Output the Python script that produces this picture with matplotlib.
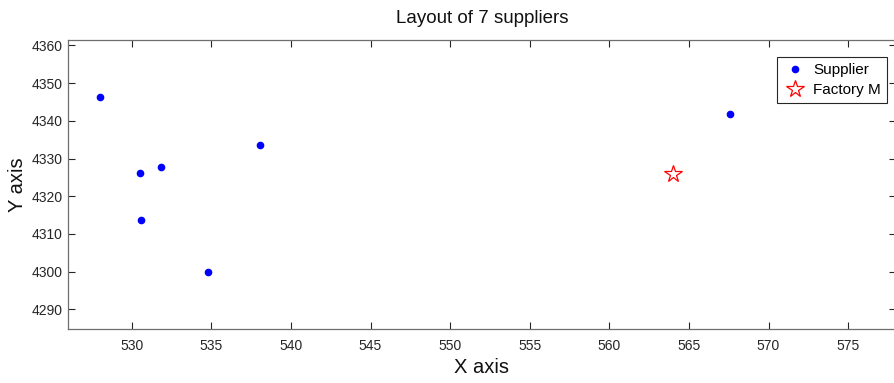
import matplotlib

matplotlib.use("Agg")
import matplotlib.pyplot as plt

plt.rcParams["font.family"] = ["Liberation Sans", "DejaVu Sans"]

# supplier coordinates and the factory location
supplier_x = [528.0, 530.55, 531.83, 530.57, 534.8, 538.07, 567.55]
supplier_y = [4346.4, 4326.3, 4327.9, 4313.8, 4299.9, 4333.6, 4341.9]
factory_x = [564.0]
factory_y = [4325.9]

x_ticks = [530, 535, 540, 545, 550, 555, 560, 565, 570, 575]
y_ticks = [4290, 4300, 4310, 4320, 4330, 4340, 4350, 4360]

fig = plt.figure(figsize=(8.95, 3.83), dpi=100)
ax = fig.add_axes([0.076, 0.141, 0.925, 0.755])

ax.plot(supplier_x, supplier_y, "o", color="#0000ff", markersize=4.5,
        linestyle="none", label="Supplier")
ax.plot(factory_x, factory_y, "*", markerfacecolor="none", markeredgecolor="#ff0000",
        markersize=13, markeredgewidth=0.9, linestyle="none", label="Factory M")

ax.set_xlim(526, 578)
ax.set_ylim(4284.8, 4361.5)
ax.set_xticks(x_ticks)
ax.set_yticks(y_ticks)
ax.tick_params(direction="in", top=True, right=True, length=5, width=0.8,
               colors="#262626", labelsize=10, labelcolor="#262626")
ax.tick_params(axis="x", pad=7.5)
ax.tick_params(axis="y", pad=4)
for spine in ax.spines.values():
    spine.set_color("#6e6e6e")
    spine.set_linewidth(0.9)

ax.set_title("Layout of 7 suppliers", fontsize=13.5, color="#111111", pad=12)
ax.set_xlabel("X axis", fontsize=14.5, color="#111111", labelpad=3)
ax.set_ylabel("Y axis", fontsize=14.5, color="#111111", labelpad=3)

leg = ax.legend(loc="upper right", bbox_to_anchor=(0.9895, 0.941), borderaxespad=0,
                fontsize=11, fancybox=False, framealpha=1, edgecolor="#262626",
                handletextpad=0.45, borderpad=0.4, labelspacing=0.4, handlelength=1.5)
leg.get_frame().set_linewidth(0.8)

fig.savefig("out.png", dpi=100)
